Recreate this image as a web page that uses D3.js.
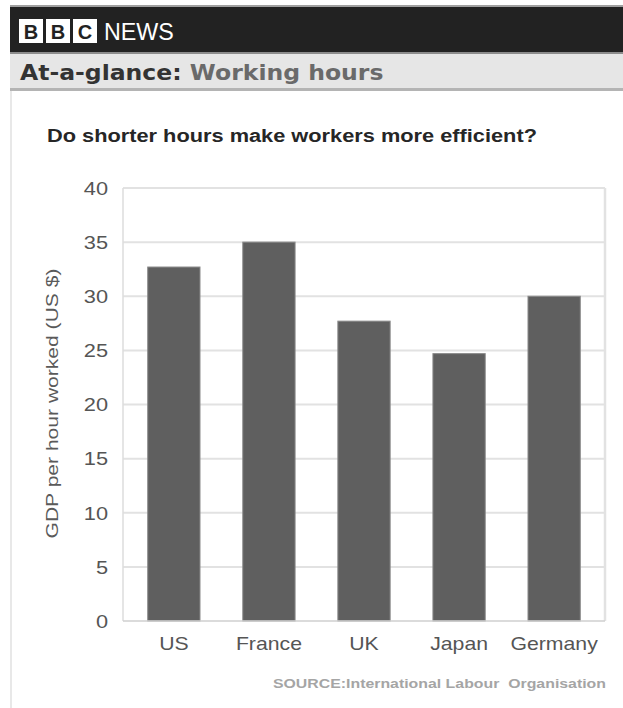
<!DOCTYPE html>
<html>
<head>
<meta charset="utf-8">
<title>Working hours</title>
<script src="https://cdn.jsdelivr.net/npm/d3@7"></script>
<style>
    body { margin: 0; background: #fff; }
    svg { display: block; }
    text { font-family: "Liberation Sans", Arial, sans-serif; }
</style>
</head>
<body>
<svg class="bar-chart"></svg>
<script>
'use strict';

var countries = ['US', 'France', 'UK', 'Japan', 'Germany'];
var gdpPerHour = [32.7, 35.0, 27.7, 24.7, 30.0];
var yTicks = [0, 5, 10, 15, 20, 25, 30, 35, 40];
var logoLetters = ['B', 'B', 'C'];

var drawChart = function() {
    var svgWidth = 623,
        svgHeight = 708,
        margin = { top: 188, right: 18, bottom: 87, left: 123 },
        width = svgWidth - margin.left - margin.right,
        height = svgHeight - margin.top - margin.bottom,
        stretch = 1.21;

    var data = countries.map(function(c, i) { return { name: c, value: gdpPerHour[i] }; });

    var svg = d3.select('svg.bar-chart')
        .attr('width', svgWidth)
        .attr('height', svgHeight);

    // header bars
    svg.append('rect').attr('x', 10).attr('y', 5).attr('width', svgWidth - 10).attr('height', 2).attr('fill', '#a0a0a0');
    svg.append('rect').attr('x', 10).attr('y', 7).attr('width', svgWidth - 10).attr('height', 45).attr('fill', '#222');
    svg.append('rect').attr('x', 10).attr('y', 52).attr('width', svgWidth - 10).attr('height', 2).attr('fill', '#8c8c8c');
    svg.append('rect').attr('x', 10).attr('y', 54).attr('width', svgWidth - 10).attr('height', 34).attr('fill', '#e6e6e6');
    svg.append('rect').attr('x', 10).attr('y', 88).attr('width', svgWidth - 10).attr('height', 3).attr('fill', '#b4b4b4');
    svg.append('rect').attr('x', 10).attr('y', 91).attr('width', 2).attr('height', svgHeight - 91).attr('fill', '#e8e8e8');

    var logo = svg.append('g').attr('transform', 'translate(19, 19)');
    logo.selectAll('g').data(logoLetters).enter().append('g')
        .attr('transform', function(d, i) { return 'translate(' + (i * 27) + ', 0)'; })
        .each(function(d) {
            var g = d3.select(this);
            g.append('rect').attr('width', 24).attr('height', 24).attr('fill', '#fff');
            g.append('text').attr('x', 12).attr('y', 19.5).attr('text-anchor', 'middle')
                .attr('font-size', 20).attr('font-weight', 'bold').attr('fill', '#222').text(d);
        });
    svg.append('text').attr('transform', 'translate(104, 40) scale(0.97, 1)')
        .attr('font-size', 24).attr('fill', '#fff').text('NEWS');

    var sub = svg.append('text').attr('transform', 'translate(20, 80) scale(1.07, 1)')
        .style('font-family', '"DejaVu Sans", Verdana, sans-serif')
        .attr('font-size', 22).attr('font-weight', 'bold');
    sub.append('tspan').attr('fill', '#333').text('At-a-glance: ');
    sub.append('tspan').attr('fill', '#6a6a6a').text('Working hours');

    // title
    svg.append('text')
        .attr('transform', 'translate(47, 142) scale(' + stretch + ', 1)')
        .attr('font-size', 18).attr('font-weight', 'bold').attr('fill', '#262626')
        .text('Do shorter hours make workers more efficient?');

    var xScale = d3.scaleBand().domain(countries)
        .range([margin.left, margin.left + width])
        .paddingInner(0.45).paddingOuter(0.26);

    var yScale = d3.scaleLinear().domain([0, 40])
        .range([margin.top + height, margin.top]);

    // grid
    svg.append('g').selectAll('line').data(yTicks.slice(1)).enter().append('line')
        .attr('x1', margin.left).attr('x2', margin.left + width)
        .attr('y1', function(d) { return yScale(d); })
        .attr('y2', function(d) { return yScale(d); })
        .attr('stroke', '#e2e2e2').attr('stroke-width', 2);

    svg.append('line').attr('x1', margin.left).attr('x2', margin.left)
        .attr('y1', margin.top).attr('y2', margin.top + height)
        .attr('stroke', '#dcdcdc').attr('stroke-width', 1.5);
    svg.append('line').attr('x1', margin.left + width).attr('x2', margin.left + width)
        .attr('y1', margin.top).attr('y2', margin.top + height)
        .attr('stroke', '#e2e2e2').attr('stroke-width', 2.5);

    // bars
    svg.append('g').selectAll('rect').data(data).enter().append('rect')
        .attr('x', function(d) { return xScale(d.name); })
        .attr('y', function(d) { return yScale(d.value); })
        .attr('width', xScale.bandwidth())
        .attr('height', function(d) { return yScale(0) - yScale(d.value); })
        .attr('fill', '#5f5f5f')
        .attr('stroke', '#8a8a8a').attr('stroke-width', 1);

    svg.append('line').attr('x1', margin.left).attr('x2', margin.left + width)
        .attr('y1', yScale(0)).attr('y2', yScale(0))
        .attr('stroke', '#cfcfcf').attr('stroke-width', 1.5);

    // axes
    var yAxis = d3.axisLeft().scale(yScale).tickValues(yTicks).tickSize(0).tickPadding(0);
    var gy = svg.append('g').attr('transform', 'translate(108, 0)').call(yAxis);
    gy.select('.domain').remove();
    gy.selectAll('text')
        .attr('x', 0).attr('dy', '0.35em')
        .attr('transform', 'scale(' + stretch + ', 1)')
        .attr('font-size', 18).attr('fill', '#555')
        .style('font-family', '"Liberation Sans", Arial, sans-serif');

    var xAxis = d3.axisBottom().scale(xScale).tickSize(0).tickPadding(0);
    var gx = svg.append('g').attr('transform', 'translate(0, 650)').call(xAxis);
    gx.select('.domain').remove();
    gx.selectAll('text')
        .attr('y', 0).attr('dy', 0)
        .attr('transform', 'scale(1.18, 1)')
        .attr('font-size', 18).attr('fill', '#555')
        .style('font-family', '"Liberation Sans", Arial, sans-serif');
    gx.selectAll('.tick').attr('transform', function(d) {
        return 'translate(' + (xScale(d) + xScale.bandwidth() / 2) + ', 0)';
    });

    // y label
    svg.append('text')
        .attr('transform', 'translate(58, ' + (yScale(20) - 1) + ') rotate(-90) scale(1.24, 1)')
        .attr('text-anchor', 'middle')
        .attr('font-size', 17).attr('fill', '#5a5a5a')
        .text('GDP per hour worked (US $)');

    // source
    svg.append('text')
        .attr('transform', 'translate(606, 688) scale(1.22, 1)')
        .attr('text-anchor', 'end')
        .attr('xml:space', 'preserve')
        .style('white-space', 'pre')
        .attr('font-size', 13).attr('font-weight', 'bold').attr('fill', '#a5a5a5')
        .text('SOURCE:International Labour  Organisation');
};

drawChart();
</script>
</body>
</html>
